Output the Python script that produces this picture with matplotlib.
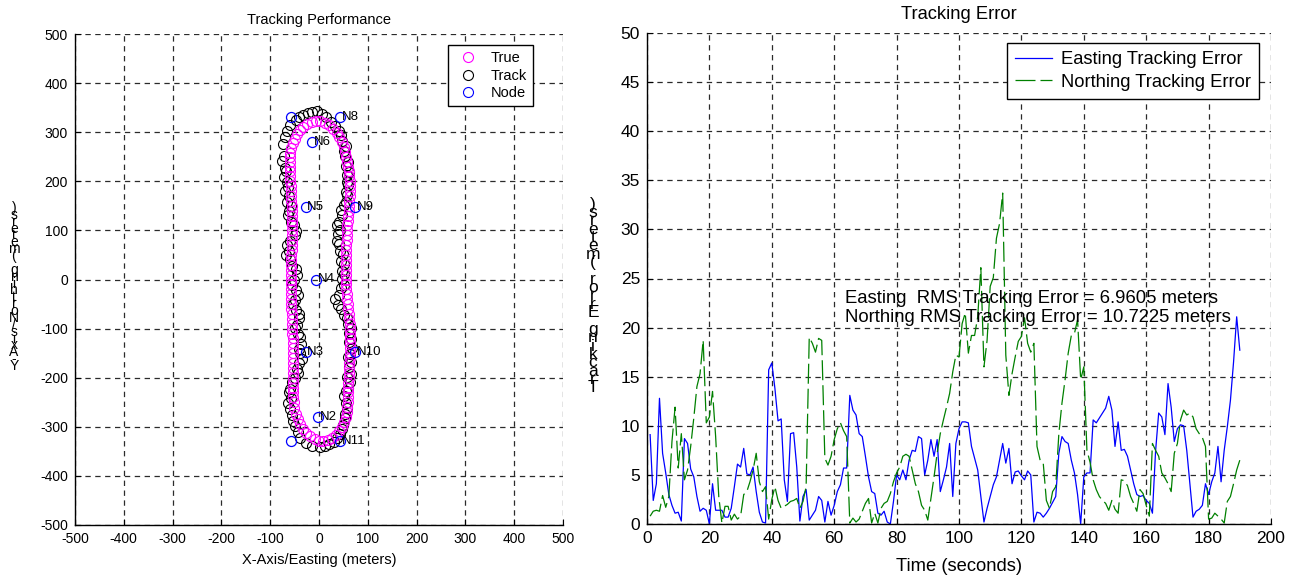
import matplotlib
matplotlib.use('Agg')
import matplotlib.pyplot as plt
from matplotlib.lines import Line2D

plt.rcParams['font.family'] = ['Liberation Sans', 'DejaVu Sans']
plt.rcParams['axes.unicode_minus'] = False

# ---------------- data: right panel (tracking error time series) ----------------
time_s = list(range(1, 191))
easting_err = [
    9.1, 2.4, 4.1, 12.8, 7.2, 5.2, 3.0, 1.9, 1.1, 1.2,
    0.3, 8.7, 8.2, 5.6, 4.8, 2.8, 1.3, 1.6, 1.4, 0.0,
    4.1, 1.4, 1.4, 1.4, 0.7, 0.7, 1.6, 3.8, 6.1, 5.8,
    7.7, 5.1, 5.0, 5.8, 3.3, 1.2, 0.2, 0.1, 15.7, 16.4,
    13.8, 10.5, 10.7, 4.5, 2.3, 9.2, 9.3, 5.8, 0.3, 2.8,
    3.5, 0.4, 0.9, 1.4, 2.8, 2.4, 0.2, 2.3, 0.9, 1.9,
    3.3, 4.0, 5.7, 5.7, 13.1, 11.6, 11.1, 9.2, 8.9, 6.9,
    4.8, 3.3, 3.1, 1.1, 0.9, 1.3, 0.2, 0.0, 2.3, 5.0,
    4.5, 5.5, 4.5, 6.5, 7.5, 7.4, 8.9, 8.7, 5.0, 6.5,
    8.6, 6.9, 8.6, 3.3, 4.5, 5.8, 8.2, 2.8, 8.2, 9.7,
    10.4, 10.4, 10.3, 7.9, 6.7, 5.5, 2.8, 0.2, 1.6, 2.8,
    4.0, 4.8, 6.5, 8.2, 6.2, 7.7, 4.1, 5.3, 5.4, 4.9,
    4.5, 5.4, 5.0, 0.2, 1.2, 1.1, 0.7, 1.1, 1.6, 2.2,
    2.8, 7.2, 8.9, 8.4, 8.2, 6.5, 5.2, 3.0, 0.0, 4.8,
    5.2, 5.2, 10.6, 10.3, 10.8, 11.3, 11.8, 13.0, 11.6, 7.9,
    10.4, 7.5, 7.6, 6.9, 5.5, 4.1, 3.0, 2.8, 2.9, 2.4,
    2.1, 1.1, 7.4, 11.3, 10.9, 9.1, 14.3, 11.9, 8.4, 9.7,
    10.1, 10.0, 7.5, 4.1, 0.7, 1.3, 1.5, 1.9, 4.1, 3.0,
    4.3, 5.2, 7.9, 4.3, 7.5, 9.9, 12.6, 16.5, 21.1, 17.7,
]
northing_err = [
    0.8, 1.3, 1.4, 1.3, 2.9, 1.7, 2.8, 8.4, 11.9, 5.7,
    9.2, 4.5, 5.5, 7.9, 10.8, 14.0, 15.3, 18.7, 10.3, 10.9,
    13.5, 8.9, 2.8, 0.1, 1.8, 1.8, 0.4, 1.0, 0.5, 0.8,
    3.0, 3.3, 4.3, 5.5, 7.2, 4.3, 3.3, 3.8, 0.5, 2.5,
    3.8, 2.4, 1.6, 1.8, 2.0, 2.3, 2.4, 2.6, 1.6, 2.3,
    3.8, 19.0, 18.4, 17.5, 18.9, 18.7, 6.7, 6.0, 6.9, 8.6,
    9.7, 10.3, 9.5, 8.9, 0.1, 0.6, 0.2, 0.5, 1.3, 2.1,
    2.6, 0.1, 1.1, 0.1, 1.6, 2.1, 2.3, 3.1, 4.3, 5.2,
    5.8, 6.9, 7.1, 6.9, 5.5, 4.1, 3.3, 1.9, 1.4, 0.4,
    2.6, 4.8, 7.2, 9.2, 10.6, 11.9, 13.3, 15.5, 17.2, 17.0,
    20.4, 21.5, 17.4, 19.2, 19.2, 21.1, 26.1, 16.0, 18.7, 24.2,
    25.1, 29.1, 30.6, 33.7, 17.2, 13.1, 15.3, 17.0, 18.6, 19.1,
    21.0, 18.4, 17.5, 18.4, 7.9, 6.5, 6.2, 2.4, 1.6, 3.3,
    3.8, 9.2, 12.3, 14.7, 17.4, 19.2, 19.4, 20.8, 14.7, 16.0,
    7.5, 6.3, 4.5, 3.5, 2.8, 2.4, 2.1, 1.4, 2.4, 1.5,
    1.1, 4.5, 4.4, 3.9, 2.8, 2.1, 1.3, 3.5, 3.1, 1.9,
    0.8, 8.2, 7.5, 6.9, 5.2, 4.7, 4.1, 3.3, 7.2, 8.2,
    10.6, 11.6, 11.1, 11.3, 10.9, 9.7, 9.2, 8.8, 7.9, 0.5,
    0.6, 1.1, 0.8, 0.5, 0.1, 2.3, 2.8, 4.1, 5.5, 6.5,
]
rms_east = 6.9605
rms_north = 10.7225

# ---------------- data: left panel (trajectory) ----------------
true_x = [
    0, 9, 18, 27, 35, 42, 48, 52, 55, 57, 58, 59,
    59, 59, 60, 60, 61, 61, 62, 62, 63, 63, 63, 64, 64, 64, 63, 63, 62, 61, 60, 59,
    58, 57, 56, 56, 55, 55, 55, 55, 55, 55, 56, 56, 57, 57, 58, 58, 59, 60, 61, 62,
    62, 63, 63, 63, 63, 62, 61, 60, 58, 56,
    54, 51, 47, 42, 36, 29, 21, 12, 3, -6, -15, -24, -32, -39, -45, -50, -54, -57, -59,
    -60, -60, -60, -60, -59, -59, -58, -58, -57, -57, -56, -56, -55, -55, -55, -55, -55,
    -55, -56, -56, -57, -57, -58, -58, -58, -58, -58, -58, -58, -58, -57, -57, -56, -56,
    -55, -55, -55, -54, -54, -54, -53, -53, -53, -53, -53, -53, -53, -53, -53, -53, -52,
    -51, -48, -44, -39, -33, -26, -18, -9,
]
true_y = [
    -328, -328, -326, -322, -316, -309, -300, -290, -280, -270, -260, -250,
    -240, -230, -220, -210, -200, -190, -180, -170, -160, -150, -140, -130, -120, -110,
    -100, -90, -80, -70, -60, -50, -40, -30, -20, -10, 0, 10, 20, 30, 40, 50, 60, 70,
    80, 90, 100, 110, 120, 130, 140, 150, 160, 170, 180, 190, 200, 210, 220, 230, 240, 250,
    260, 270, 280, 290, 299, 307, 314, 319, 322, 323, 321, 317, 311, 304, 296, 287, 277, 267, 257,
    250, 240, 230, 220, 210, 200, 190, 180, 170, 160, 150, 140, 130, 120, 110, 100, 90,
    80, 70, 60, 50, 40, 30, 20, 10, 0, -10, -20, -30, -40, -50, -60, -70, -80,
    -90, -100, -110, -120, -130, -140, -150, -160, -170, -180, -190, -200, -210, -220, -230, -240, -250,
    -262, -274, -285, -295, -304, -312, -319, -325,
]
track_x = [
    2, 12, 20, 30, 36, 44, 47, 50, 53, 54, 57, 55,
    52, 56, 60, 63, 58, 65, 61, 66, 60, 64, 67, 61, 65, 62, 66, 60, 58, 52, 45, 38,
    33, 40, 45, 52, 48, 52, 47, 51, 46, 49, 44, 40, 36, 39, 43, 37, 42, 47, 45, 51,
    55, 58, 55, 60, 58, 57, 61, 55, 59, 54,
    52, 55, 48, 45, 40, 32, 24, 14, 6, -4, -14, -22, -32, -40, -48, -60, -66, -70, -74,
    -72, -76, -70, -68, -72, -66, -64, -69, -62, -66, -58, -61, -64, -57, -52, -48, -50,
    -60, -66, -62, -68, -60, -55, -48, -45, -51, -56, -48, -44, -50, -54, -47, -42, -40,
    -46, -50, -44, -38, -36, -42, -38, -34, -40, -46, -43, -50, -56, -60, -62, -58, -63,
    -60, -56, -54, -50, -44, -38, -26, -14,
]
track_y = [
    -342, -340, -336, -330, -322, -314, -305, -296, -283, -274, -262, -252,
    -238, -228, -221, -208, -199, -192, -178, -169, -158, -151, -139, -128, -121, -108,
    -99, -91, -78, -72, -61, -52, -39, -31, -18, -12, 2, 12, 18, 31, 38, 52, 58, 72,
    79, 92, 101, 112, 118, 132, 141, 152, 158, 172, 179, 192, 199, 212, 218, 232, 239, 252,
    262, 272, 283, 294, 303, 312, 320, 330, 338, 344, 342, 340, 335, 330, 324, 314, 302, 290, 276,
    252, 241, 228, 221, 208, 199, 188, 180, 171, 158, 150, 139, 131, 118, 110, 98, 91,
    78, 70, 58, 50, 41, 28, 22, 9, -2, -12, -21, -31, -42, -49, -62, -71, -79,
    -92, -99, -111, -118, -131, -142, -149, -162, -171, -182, -191, -201, -209, -222, -229, -242, -251,
    -264, -276, -288, -298, -310, -322, -332, -340,
]
node_names = ['N1', 'N2', 'N3', 'N4', 'N5', 'N6', 'N7', 'N8', 'N9', 'N10', 'N11']
node_x = [-57, -2, -27, -6, -27, -14, -57, 43, 74, 74, 43]
node_y = [-329, -280, -148, 0, 148, 280, 331, 331, 148, -148, -329]
unlabeled_nodes = ['N1', 'N7']

# ---------------- figure ----------------
W, H = 1299, 578
fig = plt.figure(figsize=(W / 100, H / 100), dpi=100)

grid_kw = dict(color='#2a2a2a', linewidth=0.9, linestyle=(0, (4.3, 3.6)))


def style_axes(ax, fs):
    ax.spines['top'].set_visible(False)
    ax.spines['right'].set_visible(False)
    for s in ('left', 'bottom'):
        ax.spines[s].set_linewidth(1.0)
    ax.tick_params(direction='in', length=4, width=0.8, labelsize=fs,
                   top=False, right=False, pad=5)
    ax.grid(True, **grid_kw)
    ax.set_axisbelow(True)


# ----- left panel -----
axL = fig.add_axes([75 / W, 1 - 525 / H, (563 - 75) / W, (525 - 34) / H])
ms = 7.2
axL.plot(track_x, track_y, linestyle='none', marker='o', ms=ms, mfc='none',
         mec='black', mew=0.8, zorder=3)
axL.plot(true_x, true_y, linestyle='none', marker='o', ms=ms, mfc='none',
         mec='#ff00ff', mew=0.8, zorder=4)
axL.plot(node_x, node_y, linestyle='none', marker='o', ms=ms, mfc='none',
         mec='#0000ff', mew=0.9, zorder=5)
for nm, nx, ny in zip(node_names, node_x, node_y):
    if nm in unlabeled_nodes:
        continue
    axL.text(nx + 3, ny, nm, fontsize=9.5, ha='left', va='center', zorder=6)
axL.set_xlim(-500, 500)
axL.set_ylim(-500, 500)
axL.set_xticks(range(-500, 501, 100))
axL.set_yticks(range(-500, 501, 100))
style_axes(axL, 10)
axL.set_title('Tracking Performance', fontsize=10.5, pad=7)
axL.set_xlabel('X-Axis/Easting (meters)', fontsize=10.5, labelpad=5)
legL = axL.legend(
    handles=[Line2D([], [], ls='none', marker='o', ms=ms, mfc='none', mec='#ff00ff', mew=0.8),
             Line2D([], [], ls='none', marker='o', ms=ms, mfc='none', mec='black', mew=0.8),
             Line2D([], [], ls='none', marker='o', ms=ms, mfc='none', mec='#0000ff', mew=0.8)],
    labels=['True', 'Track', 'Node'], loc='upper right', bbox_to_anchor=(0.9385, 0.9776),
    borderaxespad=0, fontsize=10.5, frameon=True, fancybox=False, framealpha=1,
    edgecolor='black', handlelength=1.9, handletextpad=0.6, borderpad=0.42,
    labelspacing=0.24)
legL.get_frame().set_linewidth(1.0)
legL.set_zorder(10)

# ----- right panel -----
axR = fig.add_axes([647 / W, 1 - 524 / H, (1271 - 647) / W, (524 - 33) / H])
axR.plot(time_s, easting_err, color='#0000ff', linewidth=0.9,
         label='Easting Tracking Error')
axR.plot(time_s, northing_err, color='#008000', linewidth=0.9,
         linestyle=(0, (16, 4)), label='Northing Tracking Error')
axR.set_xlim(0, 200)
axR.set_ylim(0, 50)
axR.set_xticks(range(0, 201, 20))
axR.set_yticks(range(0, 51, 5))
style_axes(axR, 12.5)
axR.set_title('Tracking Error', fontsize=13.2, pad=10)
axR.set_xlabel('Time (seconds)', fontsize=13.2, labelpad=9)
axR.text(63.5, 23.0, 'Easting  RMS Tracking Error = %.4f meters' % rms_east,
         fontsize=13.3, ha='left', va='center')
axR.text(63.5, 21.0, 'Northing RMS Tracking Error = %.4f meters' % rms_north,
         fontsize=13.3, ha='left', va='center')
legR = axR.legend(loc='upper right', bbox_to_anchor=(0.981, 0.9796), borderaxespad=0,
                  fontsize=13.2, frameon=True, fancybox=False, framealpha=1, edgecolor='black',
                  handlelength=2.0, handletextpad=0.5, borderpad=0.45, labelspacing=0.3)
legR.get_frame().set_linewidth(1.0)

# ----- stacked (garbled) y-labels -----
def stacked_label(text, x_px, top_px, bottom_px, fs):
    chars = list(reversed(text))
    n = len(chars)
    for i, ch in enumerate(chars):
        y_px = top_px + (bottom_px - top_px) * i / (n - 1)
        fig.text(x_px / W, 1 - y_px / H, ch, fontsize=fs, ha='center', va='center')


stacked_label('Y-Axis/Northing (meters)', 14, 208, 366, 10)
stacked_label('Tracking Error (meters)', 593, 204, 388, 12.5)

fig.savefig('out.png', dpi=100)
